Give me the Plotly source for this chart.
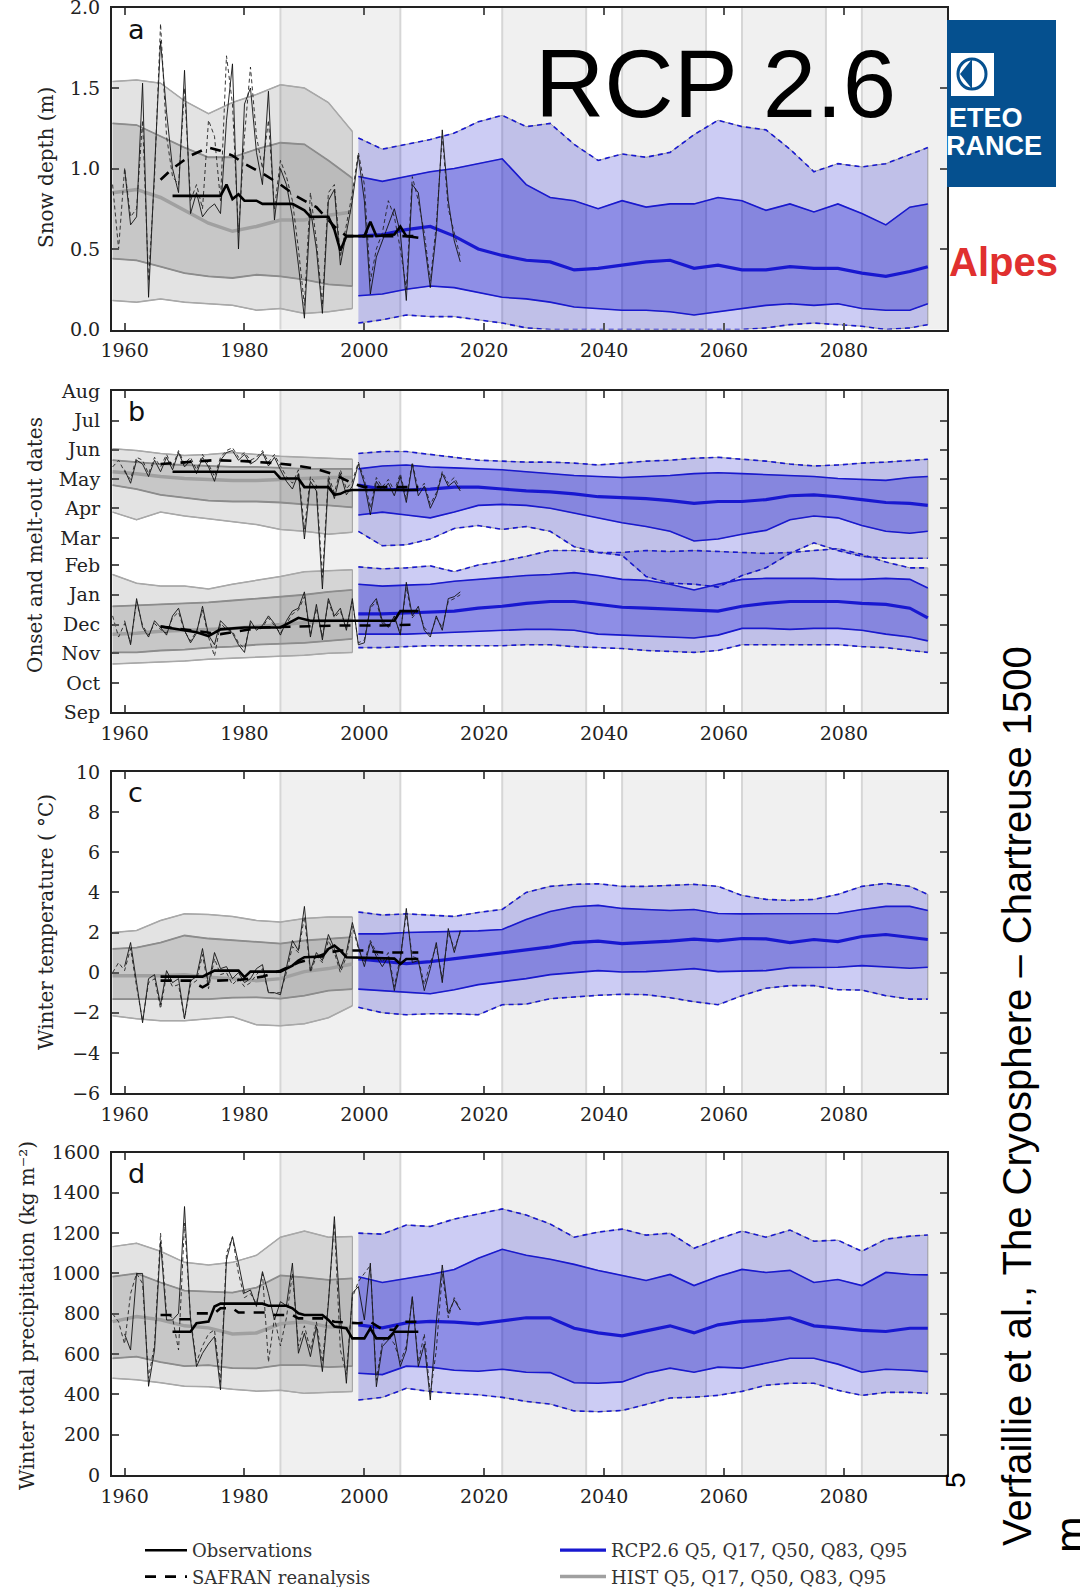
import plotly.graph_objects as go

W, H = 1080, 1587
ML, MR = 112, 133
PW = W - ML - MR

# ---------------- data ----------------
HIST_YEARS = [1958, 1962, 1966, 1970, 1974, 1978, 1982, 1986, 1990, 1994, 1998]
RCP_YEARS = [1999, 2003, 2007, 2011, 2015, 2019, 2023, 2027, 2031, 2035, 2039, 2043, 2047,
             2051, 2055, 2059, 2063, 2067, 2071, 2075, 2079, 2083, 2087, 2091, 2094]
OBS_YEARS = list(range(1960, 2017))
SAFRAN_YEARS = list(range(1958, 2017))

PERIOD_STARTS = [1986, 2023, 2043, 2063, 2083]
PERIOD_ENDS = [2006, 2037, 2057, 2077, 2097.2]

MONTH_TICKS = [0, 30, 61, 91, 122, 153, 181, 212, 242, 273, 303, 334]
MONTH_LABELS = ["Sep", "Oct", "Nov", "Dec", "Jan", "Feb", "Mar", "Apr", "May", "Jun", "Jul", "Aug"]

# ---- panel a: snow depth (m)
A_HIST_Q95 = [1.54, 1.55, 1.53, 1.42, 1.34, 1.41, 1.46, 1.52, 1.50, 1.41, 1.23]
A_HIST_Q83 = [1.28, 1.27, 1.20, 1.13, 1.07, 1.07, 1.12, 1.16, 1.15, 1.05, 0.94]
A_HIST_Q50 = [0.85, 0.87, 0.82, 0.74, 0.66, 0.61, 0.64, 0.68, 0.68, 0.71, 0.73]
A_HIST_Q17 = [0.44, 0.43, 0.39, 0.35, 0.33, 0.32, 0.34, 0.33, 0.31, 0.28, 0.27]
A_HIST_Q5 = [0.18, 0.17, 0.19, 0.17, 0.16, 0.15, 0.12, 0.13, 0.10, 0.11, 0.13]
A_RCP_Q95 = [1.19, 1.12, 1.15, 1.18, 1.22, 1.29, 1.33, 1.26, 1.28, 1.15, 1.05, 1.09, 1.07,
             1.10, 1.21, 1.30, 1.26, 1.24, 1.12, 0.98, 1.03, 1.01, 1.03, 1.09, 1.13]
A_RCP_Q83 = [0.95, 0.92, 0.95, 0.98, 1.00, 1.03, 1.06, 0.90, 0.82, 0.80, 0.75, 0.80, 0.76,
             0.78, 0.78, 0.82, 0.80, 0.74, 0.78, 0.73, 0.78, 0.72, 0.65, 0.76, 0.78]
A_RCP_Q50 = [0.58, 0.59, 0.62, 0.64, 0.58, 0.50, 0.46, 0.43, 0.42, 0.37, 0.38, 0.40, 0.42,
             0.43, 0.38, 0.40, 0.37, 0.37, 0.39, 0.38, 0.38, 0.35, 0.33, 0.36, 0.39]
A_RCP_Q17 = [0.21, 0.22, 0.25, 0.27, 0.26, 0.23, 0.20, 0.19, 0.17, 0.14, 0.13, 0.12, 0.12,
             0.11, 0.09, 0.11, 0.13, 0.15, 0.16, 0.15, 0.16, 0.13, 0.12, 0.12, 0.16]
A_RCP_Q5 = [0.04, 0.06, 0.09, 0.08, 0.08, 0.06, 0.04, 0.01, 0.00, 0.00, 0.00, 0.00, 0.00,
            0.00, 0.00, 0.00, 0.00, 0.01, 0.03, 0.04, 0.03, 0.02, 0.00, 0.01, 0.03]
A_OBS = [1.00, 0.65, 0.70, 1.53, 0.20, 1.00, 1.79, 1.35, 1.00, 0.85,
         1.61, 0.72, 0.85, 0.70, 0.75, 0.78, 0.72, 1.30, 1.65, 0.50,
         1.40, 1.50, 1.10, 0.90, 1.48, 0.68, 1.00, 0.90, 0.70, 0.40,
         0.07, 0.75, 0.50, 0.10, 0.80, 0.87, 0.40, 0.60, 0.80, 1.08,
         0.80, 0.22, 0.45, 0.55, 0.65, 0.75, 0.60, 0.18, 0.90, 0.85,
         0.55, 0.26, 0.60, 1.24, 0.80, 0.55, 0.42]
A_SAFRAN = [0.90, 0.50,
            1.00, 0.70, 0.75, 1.30, 0.30, 0.95, 1.90, 1.20, 0.95, 0.90,
            1.50, 0.80, 0.90, 0.75, 1.30, 1.20, 0.80, 1.70, 1.40, 0.60,
            1.20, 1.63, 1.20, 1.00, 1.30, 0.75, 1.05, 0.95, 0.80, 0.50,
            0.15, 0.85, 0.55, 0.15, 0.85, 0.90, 0.45, 0.65, 0.85, 1.10,
            0.90, 0.30, 0.50, 0.60, 0.80, 0.70, 0.50, 0.25, 0.95, 0.80,
            0.60, 0.30, 0.65, 1.20, 0.75, 0.60, 0.45]
A_OBS_MEAN_YEARS = [1968, 1976, 1977, 1978, 1979, 1980, 1982, 1983, 1988, 1989, 1990, 1991,
                    1994, 1995, 1996, 1997, 2000, 2001, 2002, 2005, 2006, 2007, 2009]
A_OBS_MEAN = [0.83, 0.83, 0.90, 0.81, 0.84, 0.80, 0.80, 0.78, 0.78, 0.76, 0.74, 0.70,
              0.70, 0.62, 0.49, 0.58, 0.58, 0.67, 0.58, 0.59, 0.64, 0.58, 0.57]
A_SAF_MEAN_YEARS = [1966, 1968, 1971, 1974, 1976, 1978, 1980, 1983, 1986, 1989, 1992, 1995, 1997, 2000, 2009]
A_SAF_MEAN = [0.93, 1.00, 1.08, 1.13, 1.11, 1.08, 1.03, 0.97, 0.90, 0.82, 0.76, 0.64, 0.58, 0.58, 0.58]

# ---- panel b: onset / melt-out dates (days since 1 Sep)
B_MELT_HIST_Q95 = [274, 272, 269, 267, 268, 270, 268, 266, 265, 264, 263]
B_MELT_HIST_Q83 = [262, 260, 258, 257, 256, 255, 255, 254, 253, 253, 253]
B_MELT_HIST_Q50 = [250, 248, 245, 243, 242, 241, 241, 242, 243, 244, 244]
B_MELT_HIST_Q17 = [236, 232, 226, 223, 220, 219, 219, 218, 216, 215, 213]
B_MELT_HIST_Q5 = [208, 200, 208, 204, 201, 198, 195, 190, 188, 185, 187]
B_ONSET_HIST_Q95 = [143, 134, 131, 131, 128, 133, 137, 141, 146, 147, 148]
B_ONSET_HIST_Q83 = [110, 111, 112, 113, 114, 116, 118, 120, 122, 125, 127]
B_ONSET_HIST_Q50 = [81, 82, 84, 85, 86, 87, 89, 91, 93, 95, 96]
B_ONSET_HIST_Q17 = [62, 62, 64, 65, 67, 68, 70, 71, 72, 74, 76]
B_ONSET_HIST_Q5 = [50, 51, 52, 53, 55, 56, 57, 58, 59, 61, 62]
B_MELT_RCP_Q95 = [269, 271, 271, 268, 265, 262, 261, 260, 260, 259, 257, 259, 261,
                  262, 264, 265, 263, 261, 258, 256, 257, 259, 260, 262, 263]
B_MELT_RCP_Q83 = [253, 256, 257, 255, 254, 253, 252, 250, 248, 246, 245, 244, 245,
                  246, 248, 249, 248, 247, 246, 245, 243, 242, 241, 244, 245]
B_MELT_RCP_Q50 = [236, 232, 231, 232, 234, 234, 232, 230, 229, 227, 224, 223, 222,
                  220, 217, 219, 219, 221, 225, 226, 224, 221, 218, 217, 215]
B_MELT_RCP_Q17 = [205, 208, 205, 202, 208, 215, 216, 215, 212, 207, 202, 197, 193,
                  188, 178, 180, 185, 189, 200, 204, 202, 194, 188, 186, 188]
B_MELT_RCP_Q5 = [188, 173, 174, 180, 191, 194, 190, 193, 188, 172, 166, 163, 141,
                 134, 133, 130, 142, 150, 165, 176, 168, 162, 160, 160, 160]
B_ONSET_RCP_Q95 = [151, 149, 150, 152, 146, 153, 157, 162, 168, 168, 166, 166, 168,
                   167, 168, 167, 166, 165, 166, 168, 170, 164, 156, 150, 150]
B_ONSET_RCP_Q83 = [133, 131, 132, 133, 136, 138, 140, 142, 143, 145, 142, 138, 137,
                   133, 127, 133, 138, 139, 139, 139, 138, 138, 139, 138, 129]
B_ONSET_RCP_Q50 = [102, 102, 103, 104, 105, 108, 110, 113, 115, 115, 112, 109, 108,
                   107, 106, 105, 110, 113, 115, 115, 115, 113, 112, 108, 98]
B_ONSET_RCP_Q17 = [81, 81, 81, 82, 83, 84, 85, 86, 86, 85, 81, 80, 79,
                   78, 77, 80, 87, 87, 86, 87, 87, 85, 81, 78, 74]
B_ONSET_RCP_Q5 = [67, 67, 68, 69, 69, 69, 69, 70, 70, 68, 67, 66, 64,
                  63, 62, 64, 70, 70, 70, 70, 70, 68, 67, 64, 62]
B_MELT_OBS = [252, 238, 262, 258, 245, 262, 250, 265, 252, 270,
              255, 262, 248, 265, 255, 240, 262, 270, 272, 262,
              268, 258, 262, 270, 256, 265, 252, 240, 232, 248,
              180, 240, 230, 128, 242, 222, 248, 226, 235, 258,
              238, 205, 240, 230, 238, 225, 245, 218, 258, 225,
              235, 212, 225, 248, 235, 240, 230]
B_MELT_SAFRAN = [255, 262,
                 250, 242, 265, 262, 248, 265, 255, 268, 255, 272,
                 258, 265, 252, 268, 258, 245, 265, 272, 275, 265,
                 270, 262, 265, 272, 260, 268, 256, 245, 238, 252,
                 190, 245, 236, 140, 246, 228, 252, 232, 240, 260,
                 242, 212, 244, 234, 242, 230, 248, 222, 260, 230,
                 238, 216, 228, 250, 238, 244, 232]
B_ONSET_OBS = [95, 70, 118, 88, 78, 95, 88, 80, 100, 108,
               85, 72, 82, 110, 80, 70, 95, 88, 82, 70,
               62, 95, 85, 90, 100, 92, 80, 95, 105, 108,
               125, 78, 112, 75, 118, 100, 108, 85, 118, 70,
               72, 110, 118, 95, 88, 100, 80, 135, 100, 110,
               85, 78, 100, 85, 118, 120, 125]
B_ONSET_SAFRAN = [100, 78,
                  92, 72, 115, 90, 80, 92, 86, 82, 98, 104,
                  84, 74, 84, 106, 78, 58, 92, 86, 84, 72,
                  66, 92, 86, 88, 98, 90, 82, 92, 102, 106,
                  120, 80, 108, 78, 115, 98, 105, 88, 115, 72,
                  75, 108, 115, 92, 90, 98, 82, 130, 98, 106,
                  88, 80, 98, 88, 115, 118, 122]
B_MELT_OBS_MEAN_YEARS = [1968, 1985, 1986, 1989, 1990, 1994, 1995, 1996, 1997, 1998, 2009]
B_MELT_OBS_MEAN = [250, 250, 243, 243, 234, 234, 226, 227, 230, 231, 231]
B_MELT_SAF_MEAN_YEARS = [1966, 1970, 1975, 1980, 1985, 1988, 1992, 1995, 1998, 2000, 2009]
B_MELT_SAF_MEAN = [258, 260, 262, 261, 259, 257, 253, 247, 238, 234, 234]
B_ONSET_OBS_MEAN_YEARS = [1966, 1972, 1974, 1976, 1980, 1986, 1989, 1991, 2005, 2006, 2009]
B_ONSET_OBS_MEAN = [89, 83, 79, 86, 88, 88, 98, 95, 95, 105, 105]
B_ONSET_SAF_MEAN_YEARS = [1966, 1976, 1983, 1990, 1996, 2003, 2007, 2009]
B_ONSET_SAF_MEAN = [89, 81, 88, 89, 90, 90, 91, 91]

# ---- panel c: winter temperature (degC)
C_HIST_Q95 = [2.00, 2.10, 2.60, 2.93, 2.90, 2.80, 2.60, 2.52, 2.70, 2.77, 2.77]
C_HIST_Q83 = [1.18, 1.25, 1.50, 1.85, 1.70, 1.62, 1.55, 1.45, 1.60, 1.68, 1.77]
C_HIST_Q50 = [-0.15, -0.15, -0.15, -0.10, -0.23, -0.30, -0.40, -0.30, 0.05, 0.20, 0.43]
C_HIST_Q17 = [-1.32, -1.32, -1.32, -1.32, -1.32, -1.25, -1.23, -1.30, -1.15, -0.90, -0.82]
C_HIST_Q5 = [-2.15, -2.30, -2.40, -2.40, -2.30, -2.20, -2.60, -2.65, -2.55, -2.25, -1.65]
C_RCP_Q95 = [3.02, 2.87, 2.93, 2.85, 2.80, 3.00, 3.15, 4.00, 4.30, 4.40, 4.43, 4.30, 4.30,
             4.35, 4.40, 4.30, 3.85, 3.65, 3.60, 3.65, 3.90, 4.30, 4.45, 4.30, 3.90]
C_RCP_Q83 = [1.93, 1.93, 2.00, 2.02, 2.05, 2.08, 2.15, 2.65, 3.05, 3.28, 3.35, 3.20, 3.15,
             3.10, 3.15, 2.95, 2.93, 2.93, 2.93, 2.93, 2.95, 3.15, 3.30, 3.30, 3.10]
C_RCP_Q50 = [0.68, 0.55, 0.45, 0.55, 0.70, 0.85, 1.00, 1.15, 1.28, 1.50, 1.57, 1.45, 1.50,
             1.57, 1.67, 1.58, 1.70, 1.68, 1.50, 1.65, 1.55, 1.80, 1.90, 1.75, 1.65]
C_RCP_Q17 = [-0.82, -0.90, -1.00, -1.05, -0.85, -0.60, -0.45, -0.30, -0.10, 0.00, 0.10, 0.03, 0.05,
             0.12, 0.20, 0.05, 0.08, 0.10, 0.25, 0.27, 0.27, 0.35, 0.30, 0.22, 0.27]
C_RCP_Q5 = [-1.73, -2.00, -2.10, -2.05, -2.05, -2.10, -1.60, -1.57, -1.30, -1.20, -1.13, -1.08, -1.10,
            -1.25, -1.45, -1.60, -1.15, -0.78, -0.65, -0.65, -0.85, -0.87, -1.15, -1.32, -1.32]
C_OBS = [0.3, 1.5, -0.5, -2.5, -0.3, -0.1, -1.6, 0.1, -0.5, -0.3,
         -2.3, -0.4, -0.2, 1.2, -0.6, 1.0, 0.2, 0.3, -0.3, 0.0,
         -0.5, -0.3, 0.2, 0.4, -1.0, -1.0, -1.1, 0.2, 1.6, 1.1,
         3.3, 0.1, 1.0, 0.6, 1.9, 1.2, 0.2, 1.0, 2.5, 1.3,
         0.3, 1.5, 0.8, 0.3, 0.8, -0.9, 0.6, 3.2, 0.5, 0.6,
         -0.9, 0.2, 1.5, -0.5, 2.2, 1.0, 2.1]
C_SAFRAN = [0.0, 0.5,
            0.1, 1.2, -0.7, -2.4, -0.5, -0.3, -1.8, -0.1, -0.7, -0.6,
            -2.3, -0.6, -0.4, 0.9, -0.8, 0.7, -0.1, 0.0, -0.6, -0.3,
            -0.7, -0.5, -0.1, 0.2, -1.0, -1.0, -1.0, 0.0, 1.3, 1.0,
            2.8, 0.0, 0.8, 0.5, 1.6, 1.0, 0.0, 0.8, 2.3, 1.2,
            0.5, 1.6, 1.0, 0.5, 1.0, -0.7, 0.8, 2.9, 0.8, 0.7,
            -0.6, 0.5, 1.3, -0.3, 2.0, 1.2, 2.0]
C_OBS_MEAN_YEARS = [1966, 1973, 1975, 1979, 1980, 1981, 1986, 1988, 1989, 1990, 1993, 1994,
                    1995, 1996, 1997, 2005, 2006, 2007, 2009]
C_OBS_MEAN = [-0.20, -0.20, 0.10, 0.10, -0.23, 0.05, 0.05, 0.35, 0.60, 0.77, 0.80, 1.18,
              1.35, 1.10, 0.77, 0.70, 0.43, 0.68, 0.68]
C_SAF_MEAN_YEARS = [1966, 1971, 1973, 1975, 1979, 1983, 1986, 1989, 1991, 1994, 1996, 2000, 2003, 2009]
C_SAF_MEAN = [-0.40, -0.40, -0.73, -0.40, -0.37, -0.20, 0.10, 0.50, 0.68, 1.00, 1.10, 1.10, 1.00, 1.00]

# ---- panel d: winter total precipitation (kg m-2)
D_HIST_Q95 = [1133, 1150, 1110, 1055, 1042, 1055, 1090, 1180, 1210, 1180, 1183]
D_HIST_Q83 = [984, 1000, 955, 915, 910, 905, 930, 990, 980, 968, 976]
D_HIST_Q50 = [761, 786, 770, 740, 730, 700, 705, 750, 760, 735, 728]
D_HIST_Q17 = [579, 587, 560, 540, 545, 530, 529, 545, 545, 535, 540]
D_HIST_Q5 = [480, 472, 458, 440, 438, 425, 416, 420, 405, 410, 414]
D_RCP_Q95 = [1200, 1195, 1240, 1233, 1270, 1295, 1320, 1290, 1245, 1180, 1205, 1220, 1190,
             1200, 1125, 1170, 1210, 1180, 1215, 1160, 1165, 1110, 1170, 1185, 1191]
D_RCP_Q83 = [984, 955, 975, 995, 1020, 1075, 1120, 1090, 1070, 1045, 1015, 990, 965,
             995, 940, 985, 1020, 1005, 1015, 955, 970, 940, 1005, 995, 993]
D_RCP_Q50 = [745, 730, 755, 762, 758, 750, 765, 780, 780, 728, 705, 690, 715,
             740, 705, 745, 762, 768, 780, 740, 730, 718, 712, 728, 728]
D_RCP_Q17 = [505, 498, 540, 535, 520, 515, 525, 510, 508, 458, 455, 462, 505,
             530, 510, 535, 530, 555, 579, 579, 550, 510, 525, 520, 513]
D_RCP_Q5 = [372, 385, 430, 414, 405, 398, 385, 365, 352, 318, 314, 320, 350,
            382, 386, 395, 415, 445, 455, 455, 420, 395, 410, 410, 405]
D_OBS = [700, 620, 1000, 1000, 440, 620, 1158, 769, 769, 802,
         1332, 769, 538, 604, 650, 687, 422, 1067, 1183, 1051,
         902, 918, 836, 1009, 900, 769, 860, 840, 1051, 604,
         703, 587, 736, 513, 852, 1282, 780, 455, 902, 935,
         769, 1051, 438, 637, 670, 700, 538, 620, 885, 538,
         650, 372, 760, 1042, 802, 869, 819]
D_SAFRAN = [800, 760,
            650, 900, 1000, 950, 480, 650, 1200, 800, 780, 620,
            1250, 780, 560, 640, 700, 720, 460, 1100, 1180, 1000,
            880, 900, 850, 1000, 560, 780, 640, 780, 1000, 640,
            740, 620, 760, 560, 860, 1250, 620, 500, 880, 960,
            1000, 1040, 470, 660, 690, 650, 560, 640, 880, 560,
            700, 400, 620, 1000, 780, 880, 820]
D_OBS_MEAN_YEARS = [1968, 1971, 1972, 1974, 1975, 1976, 1983, 1984, 1987, 1988, 1989, 1990,
                    1993, 1994, 1995, 1997, 1998, 2000, 2001, 2002, 2004, 2005, 2009]
D_OBS_MEAN = [711, 711, 753, 761, 836, 850, 850, 840, 840, 827, 802, 794,
              794, 769, 736, 728, 678, 678, 728, 678, 678, 711, 711]
D_SAF_MEAN_YEARS = [1966, 1968, 1969, 1971, 1972, 1975, 1976, 1978, 1979, 1984, 1985, 1988,
                    1989, 1993, 1995, 1999, 2001, 2003, 2005, 2006, 2009]
D_SAF_MEAN = [794, 794, 773, 773, 802, 802, 827, 827, 806, 806, 794, 794,
              777, 777, 760, 753, 760, 722, 720, 760, 760]

# ---------------- styling ----------------
HIST_OUTER = "rgba(0,0,0,0.11)"
HIST_INNER = "rgba(0,0,0,0.12)"
RCP_OUTER = "rgba(0,0,200,0.20)"
RCP_INNER = "rgba(0,0,200,0.30)"
EDGE = "rgba(140,140,140,0.8)"
BLUE = "#1818d0"
SERIF = "DejaVu Serif"

fig = go.Figure()


def px_x(px):
    return (px - ML) / PW


def px_y(py):
    return 1 - py / H


def band(xs, up, lo, fill, axis, edge):
    fig.add_trace(go.Scatter(
        x=list(xs) + list(xs)[::-1], y=list(up) + list(lo)[::-1],
        fill="toself", fillcolor=fill, mode="lines",
        line=dict(color=edge, width=1), hoverinfo="skip", showlegend=False,
        xaxis="x" + axis, yaxis="y" + axis))


def line(xs, ys, axis, color, width, dash="solid", name=None, legend=None, rank=None):
    fig.add_trace(go.Scatter(
        x=xs, y=ys, mode="lines", line=dict(color=color, width=width, dash=dash),
        showlegend=name is not None, name=name or "", legend=legend or "legend",
        legendrank=rank if rank else 1000,
        hoverinfo="skip", xaxis="x" + axis, yaxis="y" + axis))


def quantile_set(axis, hq, rq, legend_first=False):
    h95, h83, h50, h17, h5 = hq
    r95, r83, r50, r17, r5 = rq
    band(HIST_YEARS, h95, h5, HIST_OUTER, axis, "rgba(150,150,150,0.9)")
    band(HIST_YEARS, h83, h17, HIST_INNER, axis, "rgba(130,130,130,0.9)")
    band(RCP_YEARS, r95, r5, RCP_OUTER, axis, EDGE)
    band(RCP_YEARS, r83, r17, RCP_INNER, axis, EDGE)
    for q in (h95, h5):
        line(HIST_YEARS, q, axis, "#a8a8a8", 1.5)
    for q in (h83, h17):
        line(HIST_YEARS, q, axis, "#8c8c8c", 1.8)
    line(HIST_YEARS, h50, axis, "#a0a0a0", 3.5,
         name="HIST Q5, Q17, Q50, Q83, Q95" if legend_first else None, legend="legend2", rank=2)
    for q in (r95, r5):
        line(RCP_YEARS, q, axis, BLUE, 1.6, dash="5px,4px")
    for q in (r83, r17):
        line(RCP_YEARS, q, axis, BLUE, 1.6)
    line(RCP_YEARS, r50, axis, BLUE, 3.2,
         name="RCP2.6 Q5, Q17, Q50, Q83, Q95" if legend_first else None, legend="legend2", rank=1)


def observations(axis, obs, saf, om_x, om, sm_x, sm, legend_first=False):
    line(OBS_YEARS, obs, axis, "#111111", 0.9)
    line(SAFRAN_YEARS, saf, axis, "#222222", 0.9, dash="4px,3px")
    line(om_x, om, axis, "#000000", 2.6, name="Observations" if legend_first else None,
         legend="legend", rank=1)
    line(sm_x, sm, axis, "#000000", 2.6, dash="11px,9px",
         name="SAFRAN reanalysis" if legend_first else None, legend="legend", rank=2)


# panel a
quantile_set("", (A_HIST_Q95, A_HIST_Q83, A_HIST_Q50, A_HIST_Q17, A_HIST_Q5),
             (A_RCP_Q95, A_RCP_Q83, A_RCP_Q50, A_RCP_Q17, A_RCP_Q5), legend_first=True)
observations("", A_OBS, A_SAFRAN, A_OBS_MEAN_YEARS, A_OBS_MEAN, A_SAF_MEAN_YEARS, A_SAF_MEAN,
             legend_first=True)
# panel b
quantile_set("2", (B_MELT_HIST_Q95, B_MELT_HIST_Q83, B_MELT_HIST_Q50, B_MELT_HIST_Q17, B_MELT_HIST_Q5),
             (B_MELT_RCP_Q95, B_MELT_RCP_Q83, B_MELT_RCP_Q50, B_MELT_RCP_Q17, B_MELT_RCP_Q5))
quantile_set("2", (B_ONSET_HIST_Q95, B_ONSET_HIST_Q83, B_ONSET_HIST_Q50, B_ONSET_HIST_Q17, B_ONSET_HIST_Q5),
             (B_ONSET_RCP_Q95, B_ONSET_RCP_Q83, B_ONSET_RCP_Q50, B_ONSET_RCP_Q17, B_ONSET_RCP_Q5))
observations("2", B_MELT_OBS, B_MELT_SAFRAN, B_MELT_OBS_MEAN_YEARS, B_MELT_OBS_MEAN,
             B_MELT_SAF_MEAN_YEARS, B_MELT_SAF_MEAN)
observations("2", B_ONSET_OBS, B_ONSET_SAFRAN, B_ONSET_OBS_MEAN_YEARS, B_ONSET_OBS_MEAN,
             B_ONSET_SAF_MEAN_YEARS, B_ONSET_SAF_MEAN)
# panel c
quantile_set("3", (C_HIST_Q95, C_HIST_Q83, C_HIST_Q50, C_HIST_Q17, C_HIST_Q5),
             (C_RCP_Q95, C_RCP_Q83, C_RCP_Q50, C_RCP_Q17, C_RCP_Q5))
observations("3", C_OBS, C_SAFRAN, C_OBS_MEAN_YEARS, C_OBS_MEAN, C_SAF_MEAN_YEARS, C_SAF_MEAN)
# panel d
quantile_set("4", (D_HIST_Q95, D_HIST_Q83, D_HIST_Q50, D_HIST_Q17, D_HIST_Q5),
             (D_RCP_Q95, D_RCP_Q83, D_RCP_Q50, D_RCP_Q17, D_RCP_Q5))
observations("4", D_OBS, D_SAFRAN, D_OBS_MEAN_YEARS, D_OBS_MEAN, D_SAF_MEAN_YEARS, D_SAF_MEAN)

# ---------------- axes ----------------
PANELS = [(7.5, 329.5), (391, 712), (772, 1093), (1152.5, 1475)]
XR = [1957.9, 2097.2]
tickfont = dict(family=SERIF, size=19, color="#222")

layout_axes = {}
for i, (top, bot) in enumerate(PANELS):
    s = "" if i == 0 else str(i + 1)
    layout_axes["xaxis" + s] = dict(
        domain=[0, 1], anchor="y" + s, range=XR, tickmode="array",
        tickvals=[1960, 1980, 2000, 2020, 2040, 2060, 2080],
        ticks="inside", ticklen=7, tickwidth=1.5, tickcolor="#555",
        showline=True, linecolor="#222", linewidth=2, mirror="ticks",
        showgrid=False, zeroline=False, tickfont=tickfont, ticklabelstandoff=3,
        automargin=False, ticklabeloverflow="allow")
    layout_axes["yaxis" + s] = dict(
        domain=[px_y(bot), px_y(top)], anchor="x" + s,
        ticks="inside", ticklen=7, tickwidth=1.5, tickcolor="#555",
        showline=True, linecolor="#222", linewidth=2, mirror="ticks",
        showgrid=False, zeroline=False, tickfont=tickfont, ticklabelstandoff=6,
        automargin=False, ticklabeloverflow="allow")

layout_axes["yaxis"].update(range=[0, 2.0], tickvals=[0, 0.5, 1.0, 1.5, 2.0],
                            ticktext=["0.0", "0.5", "1.0", "1.5", "2.0"])
layout_axes["yaxis2"].update(range=[0, 334], tickvals=MONTH_TICKS, ticktext=MONTH_LABELS)
layout_axes["yaxis3"].update(range=[-6, 10], tickvals=[-6, -4, -2, 0, 2, 4, 6, 8, 10],
                             ticktext=["\u22126", "\u22124", "\u22122", "0", "2", "4", "6", "8", "10"])
layout_axes["yaxis4"].update(range=[0, 1600], tickvals=list(range(0, 1601, 200)))

# ---------------- shapes (period shading) ----------------
shapes = []
for i in range(4):
    s = "" if i == 0 else str(i + 1)
    for x0, x1 in zip(PERIOD_STARTS, PERIOD_ENDS):
        shapes.append(dict(type="rect", xref="x" + s, yref="y" + s + " domain", x0=x0, x1=x1,
                           y0=0, y1=1, fillcolor="#f0f0f0", line=dict(width=0), layer="below"))
        for xe in (x0, x1):
            if xe < XR[1] - 1:
                shapes.append(dict(type="line", xref="x" + s, yref="y" + s + " domain", x0=xe, x1=xe,
                                   y0=0, y1=1, line=dict(color="#d6d6d6", width=2), layer="below"))

# logo
shapes.append(dict(type="rect", xref="paper", yref="paper", x0=px_x(947), x1=px_x(1056),
                   y0=px_y(187), y1=px_y(20), fillcolor="#05508f", line=dict(width=0)))
shapes.append(dict(type="rect", xref="paper", yref="paper", x0=px_x(951), x1=px_x(994),
                   y0=px_y(96), y1=px_y(53), fillcolor="white", line=dict(width=0)))
shapes.append(dict(type="circle", xref="paper", yref="paper", x0=px_x(958), x1=px_x(986),
                   y0=px_y(89), y1=px_y(59), fillcolor="white", line=dict(color="#05508f", width=3)))
shapes.append(dict(type="path", xref="paper", yref="paper",
                   path="M {} {} L {} {} L {} {} Z".format(px_x(972), px_y(59), px_x(960), px_y(74),
                                                           px_x(972), px_y(89)),
                   fillcolor="#05508f", line=dict(width=0)))

# ---------------- annotations ----------------
ann = []
for letter, py in zip("abcd", [30, 411, 792, 1173]):
    ann.append(dict(text=letter, x=px_x(126), y=px_y(py), xref="paper", yref="paper",
                    xanchor="left", yanchor="middle", showarrow=False,
                    font=dict(family="DejaVu Sans", size=27, color="#111")))
for text, px, py in [("Snow depth (m)", 46, 168),
                     ("Onset and melt-out dates", 35, 545),
                     ("Winter temperature ( \u00b0C)", 46, 922),
                     ("Winter total precipitation (kg m\u207b\u00b2)", 27, 1316)]:
    ann.append(dict(text=text, x=px_x(px), y=px_y(py), xref="paper", yref="paper",
                    xanchor="center", yanchor="middle", textangle=-90, showarrow=False,
                    font=dict(family=SERIF, size=20, color="#222")))
ann.append(dict(text="RCP 2.6", x=px_x(715), y=px_y(84), xref="paper", yref="paper",
                xanchor="center", yanchor="middle", showarrow=False,
                font=dict(family="Liberation Sans, Arial", size=96, color="black")))
ann.append(dict(text="<b>ETEO</b>", x=px_x(947), y=px_y(118), xref="paper", yref="paper",
                xanchor="left", yanchor="middle", showarrow=False,
                font=dict(family="Liberation Sans", size=27, color="white")))
ann.append(dict(text="<b>RANCE</b>", x=px_x(944), y=px_y(146), xref="paper", yref="paper",
                xanchor="left", yanchor="middle", showarrow=False,
                font=dict(family="Liberation Sans", size=27, color="white")))
ann.append(dict(text="<b>Alpes</b>", x=px_x(1003), y=px_y(262), xref="paper", yref="paper",
                xanchor="center", yanchor="middle", showarrow=False,
                font=dict(family="Liberation Sans", size=40, color="#e0302f")))
ann.append(dict(text="Verfaillie et al., The Cryosphere \u2013 Chartreuse 1500",
                x=px_x(1017), y=px_y(1096), xref="paper", yref="paper",
                xanchor="center", yanchor="middle", textangle=-90, showarrow=False,
                font=dict(family="Liberation Sans, Arial", size=40, color="black")))
ann.append(dict(text="m", x=px_x(1070), y=px_y(1535), xref="paper", yref="paper",
                xanchor="center", yanchor="middle", textangle=-90, showarrow=False,
                font=dict(family="Liberation Sans", size=44, color="black")))
ann.append(dict(text="5", x=px_x(955), y=px_y(1480), xref="paper", yref="paper",
                xanchor="center", yanchor="middle", textangle=-90, showarrow=False,
                font=dict(family="Liberation Sans", size=28, color="black")))

legend_font = dict(family=SERIF, size=18, color="#333")
fig.update_layout(
    width=W, height=H, margin=dict(l=ML, r=MR, t=0, b=0, autoexpand=False),
    paper_bgcolor="white", plot_bgcolor="white",
    shapes=shapes, annotations=ann,
    legend=dict(x=px_x(140), y=px_y(1532), xanchor="left", yanchor="top",
                font=legend_font, bgcolor="rgba(0,0,0,0)", tracegroupgap=0, itemwidth=42),
    legend2=dict(x=px_x(555), y=px_y(1532), xanchor="left", yanchor="top",
                 font=legend_font, bgcolor="rgba(0,0,0,0)", tracegroupgap=0, itemwidth=46),
    **layout_axes)

fig.write_html("out.html")
